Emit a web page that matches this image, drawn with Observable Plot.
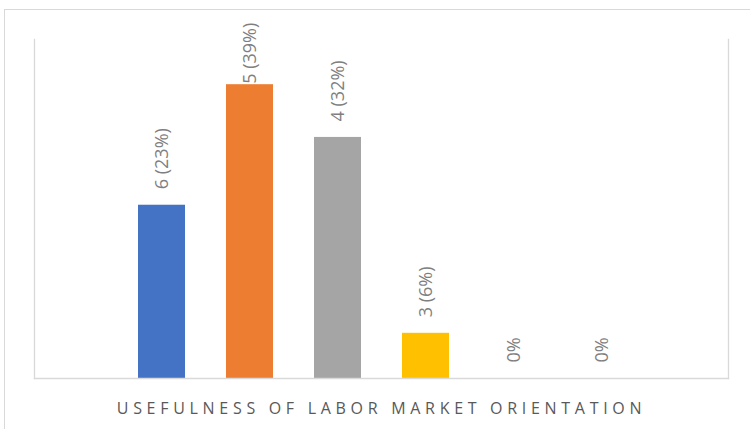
<!DOCTYPE html>
<html>
<head>
<meta charset="utf-8">
<script src="https://cdn.jsdelivr.net/npm/d3@7"></script>
<script src="https://cdn.jsdelivr.net/npm/@observablehq/plot@0.6"></script>
<style>
  html, body { margin: 0; padding: 0; background: #fff; }
  #wrap { position: relative; width: 750px; height: 429px; overflow: hidden; }
  #outer { position: absolute; left: 4px; top: 9px; width: 800px; height: 500px; border: 1px solid #d9d9d9; box-sizing: border-box; }
  #chart { position: absolute; left: 0; top: 0; }
</style>
</head>
<body>
<div id="wrap"><div id="outer"></div><div id="chart"></div></div>
<script>
const categories = ["6", "5", "4", "3", "2", "1"];
const percents = [23, 39, 32, 6, 0, 0];
const labels = ["6 (23%)", "5 (39%)", "4 (32%)", "3 (6%)", "0%", "0%"];
const colors = ["#4472C4", "#ED7D31", "#A5A5A5", "#FFC000", "#5B9BD5", "#70AD47"];
const axisTitle = "USEFULNESS OF LABOR MARKET ORIENTATION";
const yMax = 45;

const data = categories.map((c, i) => ({cat: c, pct: percents[i], label: labels[i], color: colors[i]}));
const labelCap = 37; // keep tall labels inside the chart area

const chart = Plot.plot({
  width: 750,
  height: 429,
  marginTop: 39,
  marginBottom: 51,
  marginLeft: 34,
  marginRight: 22,
  style: {background: "transparent", fontFamily: "'Open Sans', sans-serif"},
  x: {domain: categories, paddingInner: 0.466, paddingOuter: 1.176, axis: null},
  y: {domain: [0, yMax], axis: null},
  marks: [
    Plot.barY(data, {x: "cat", y: "pct", fill: "color"}),
    Plot.frame({anchor: "left", stroke: "#d9d9d9", strokeWidth: 1.3}),
    Plot.frame({anchor: "right", stroke: "#d9d9d9", strokeWidth: 1.3}),
    Plot.frame({anchor: "bottom", stroke: "#d9d9d9", strokeWidth: 1.3}),
    Plot.text(data, {
      x: "cat",
      y: d => Math.min(d.pct, labelCap),
      text: "label",
      rotate: -90,
      textAnchor: "start",
      dy: -16,
      fontSize: 18,
      fill: "#7f7f7f"
    }),
    Plot.text([axisTitle], {
      frameAnchor: "bottom",
      dy: 35,
      text: d => d,
      fontSize: 16,
      fill: "#595959",
      className: "axis-title"
    })
  ]
});
document.getElementById("chart").appendChild(chart);
d3.select(chart).selectAll(".axis-title text").attr("letter-spacing", "4.7px");
</script>
</body>
</html>
